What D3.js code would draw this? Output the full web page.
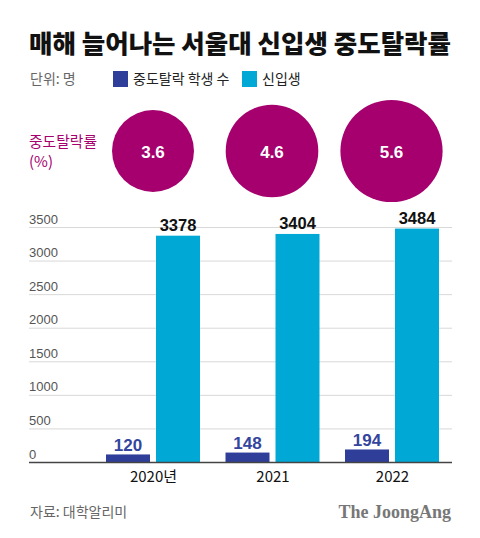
<!DOCTYPE html>
<html><head><meta charset="utf-8">
<script src="https://cdn.jsdelivr.net/npm/d3@7"></script>
<style>
html,body{margin:0;padding:0;background:#fff;}
svg{display:block;}
</style>
</head><body>
<svg id="chart" width="480" height="538"></svg>
<script>
const years = ["2020년", "2021", "2022"];
const dropouts = [120, 148, 194];
const freshmen = [3378, 3404, 3484];
const dropoutRates = [3.6, 4.6, 5.6];
const yTicks = [0, 500, 1000, 1500, 2000, 2500, 3000, 3500];
const seriesNames = ["중도탈락 학생 수", "신입생"];
const title = "매해 늘어나는 서울대 신입생 중도탈락률";
const unitLabel = "단위: 명";
const rateLabel = ["중도탈락률", "(%)"];
const sourceLabel = "자료: 대학알리미";
const logo = "The JoongAng";

const C_DARK = "#2f3e99", C_LIGHT = "#00a8d6", C_MAG = "#a5006e";
const KR = "'Noto Sans CJK KR','Noto Sans',sans-serif";
const LAT = "'Liberation Sans',Arial,sans-serif";

const svg = d3.select("#chart");

// title
svg.append("text").attr("x", 29).attr("y", 53).attr("font-family", KR)
  .attr("font-weight", 900).attr("font-size", 25).attr("fill", "#111")
  .attr("textLength", 422).attr("lengthAdjust", "spacingAndGlyphs").text(title);

// unit + legend
svg.append("text").attr("x", 30).attr("y", 84).attr("font-family", KR)
  .attr("font-size", 14).attr("fill", "#666").text(unitLabel);
const legendX = [113, 242];
const colors = [C_DARK, C_LIGHT];
seriesNames.forEach((n, i) => {
  svg.append("rect").attr("x", legendX[i]).attr("y", 71).attr("width", 15).attr("height", 16).attr("fill", colors[i]);
  svg.append("text").attr("x", legendX[i] + 20).attr("y", 84).attr("font-family", KR)
    .attr("font-size", 14).attr("fill", "#222").text(n);
});

// scales
const x = d3.scalePoint().domain(years).range([153, 392]);
const y = d3.scaleLinear().domain([0, 3500]).range([462.5, 227.5]);
const r = d3.scaleSqrt().domain([0, 5.6]).range([0, 51.1]);
const xLeft = 29, xRight = 452;
const barW = 44, gap = 6;

// circles
svg.append("text").attr("x", 29).attr("y", 147).attr("font-family", KR).attr("font-size", 15)
  .attr("fill", C_MAG).attr("textLength", 68).attr("lengthAdjust", "spacingAndGlyphs").text(rateLabel[0]);
svg.append("text").attr("x", 29).attr("y", 167).attr("font-family", KR).attr("font-size", 15)
  .attr("fill", C_MAG).text(rateLabel[1]);
const circX = [153, 272, 391.5];
const cg = svg.append("g");
cg.selectAll("circle").data(dropoutRates).join("circle")
  .attr("cx", (d, i) => circX[i]).attr("cy", 151).attr("r", d => r(d)).attr("fill", C_MAG);
cg.selectAll("text").data(dropoutRates).join("text")
  .attr("x", (d, i) => circX[i]).attr("y", 157.5).attr("text-anchor", "middle")
  .attr("font-family", LAT).attr("font-weight", 700).attr("font-size", 17).attr("fill", "#fff")
  .text(d => d.toFixed(1));

// grid
const grid = svg.append("g");
grid.selectAll("line").data(yTicks.filter(t => t > 0)).join("line")
  .attr("x1", xLeft).attr("x2", xRight).attr("y1", d => y(d)).attr("y2", d => y(d))
  .attr("stroke", "#d8d8d8").attr("stroke-width", 1);
grid.selectAll("text").data(yTicks).join("text")
  .attr("x", xLeft).attr("y", d => y(d) - 4).attr("font-family", LAT)
  .attr("font-size", 13).attr("fill", "#555").text(d => d);

// bars
const bars = svg.append("g");
bars.selectAll("rect.d").data(dropouts).join("rect").attr("class", "d")
  .attr("x", (d, i) => x(years[i]) - gap / 2 - barW).attr("width", barW)
  .attr("y", d => y(d)).attr("height", d => y(0) - y(d)).attr("fill", C_DARK);
bars.selectAll("rect.l").data(freshmen).join("rect").attr("class", "l")
  .attr("x", (d, i) => x(years[i]) + gap / 2).attr("width", barW)
  .attr("y", d => y(d)).attr("height", d => y(0) - y(d)).attr("fill", C_LIGHT);
bars.selectAll("text.d").data(dropouts).join("text").attr("class", "d")
  .attr("x", (d, i) => x(years[i]) - gap / 2 - barW / 2).attr("y", d => y(d) - 3.5)
  .attr("text-anchor", "middle").attr("font-family", LAT).attr("font-weight", 700)
  .attr("font-size", 17).attr("fill", "#34459e").text(d => d);
bars.selectAll("text.l").data(freshmen).join("text").attr("class", "l")
  .attr("x", (d, i) => x(years[i]) + gap / 2 + barW / 2).attr("y", d => y(d) - 5)
  .attr("text-anchor", "middle").attr("font-family", LAT).attr("font-weight", 700)
  .attr("font-size", 16.5).attr("fill", "#111").text(d => d);

// axis
const axis = svg.append("g").attr("transform", `translate(0,${y(0)})`)
  .call(d3.axisBottom(x).tickSize(0).tickPadding(9));
axis.select(".domain").attr("d", `M${xLeft},0H${xRight}`).attr("stroke", "#444").attr("stroke-width", 1.5);
axis.selectAll(".tick text").attr("font-family", KR).attr("font-size", 15).attr("fill", "#111")
  .attr("dy", "0.72em");

// footer
svg.append("text").attr("x", 30).attr("y", 517).attr("font-family", KR)
  .attr("font-size", 14).attr("fill", "#666").text(sourceLabel);
svg.append("text").attr("x", 451).attr("y", 518).attr("text-anchor", "end")
  .attr("font-family", "'Liberation Serif','DejaVu Serif',serif").attr("font-weight", 700)
  .attr("font-size", 18).attr("fill", "#777").text(logo);
</script>
</body></html>
